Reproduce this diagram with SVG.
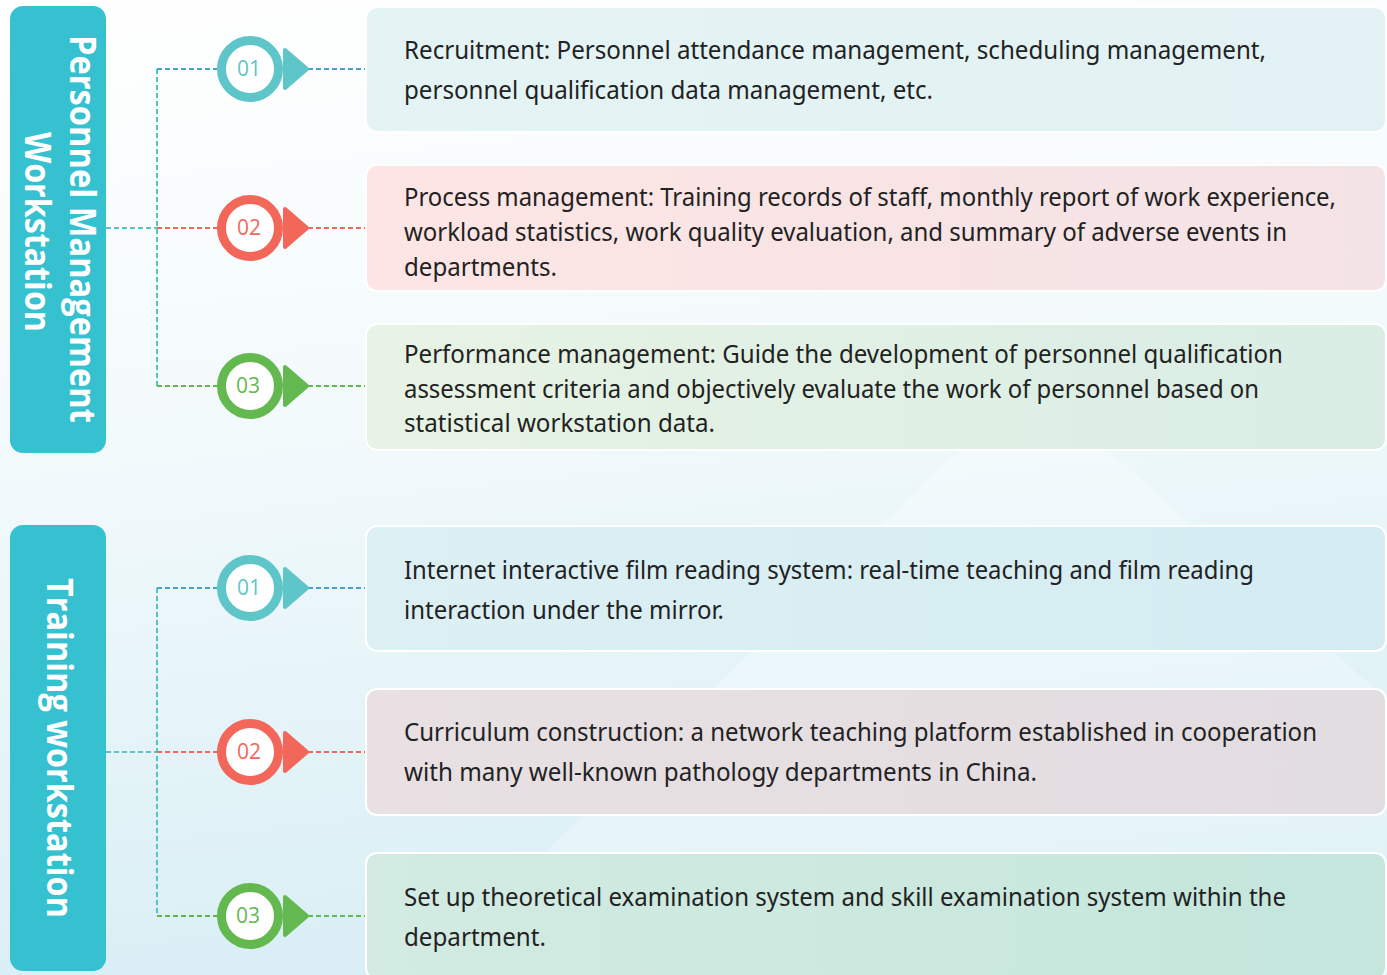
<svg xmlns="http://www.w3.org/2000/svg" width="1387" height="975" viewBox="0 0 1387 975">
<defs>
<linearGradient id="bg" x1="0" y1="0" x2="0.15" y2="1">
<stop offset="0" stop-color="#ffffff"/>
<stop offset="0.45" stop-color="#f3fafc"/>
<stop offset="1" stop-color="#d9eff5"/>
</linearGradient>
<linearGradient id="g1" x1="0" y1="0" x2="1" y2="0"><stop offset="0" stop-color="#e4f4f4"/><stop offset="1" stop-color="#e2f2f4"/></linearGradient>
<linearGradient id="g2" x1="0" y1="0" x2="1" y2="0"><stop offset="0" stop-color="#fde5e4"/><stop offset="1" stop-color="#f4e3e6"/></linearGradient>
<linearGradient id="g3" x1="0" y1="0" x2="1" y2="0"><stop offset="0" stop-color="#e7f3e4"/><stop offset="1" stop-color="#d9ede5"/></linearGradient>
<linearGradient id="g4" x1="0" y1="0" x2="1" y2="0"><stop offset="0" stop-color="#dcf0f4"/><stop offset="1" stop-color="#d4ecf2"/></linearGradient>
<linearGradient id="g5" x1="0" y1="0" x2="1" y2="0"><stop offset="0" stop-color="#e8e0e3"/><stop offset="1" stop-color="#e2dde1"/></linearGradient>
<linearGradient id="g6" x1="0" y1="0" x2="1" y2="0"><stop offset="0" stop-color="#d3ebe2"/><stop offset="1" stop-color="#c4e6dc"/></linearGradient>
</defs>
<style>
.title{font-family:"Open Sans","Noto Sans",sans-serif;font-weight:700;font-size:36px;fill:#ffffff}
.side{fill:#36c1d1}
.card{stroke:#ffffff;stroke-width:2}
.txt{font-family:"Noto Sans","Open Sans",sans-serif;font-size:25px;fill:#222222}
.num{font-family:"Open Sans","Noto Sans",sans-serif;font-size:21px;text-anchor:middle}
.dash{fill:none;stroke-width:2;stroke-dasharray:5 3}
.ring{fill:#ffffff;stroke-width:9}
.arr{stroke-width:4;stroke-linejoin:round}
</style>
<rect x="0" y="0" width="1387" height="975" fill="url(#bg)"/>
<polygon points="1030,380 1387,700 1387,975 420,975" fill="#ffffff" opacity="0.25"/>

<g id="connectors">
<path class="dash" stroke="#58c3c8" d="M106,228 H157"/>
<path class="dash" stroke="#4fc4c9" d="M157,69 V386"/>
<path class="dash" stroke="#46a3c9" d="M157,69 H218 M308,69 H365"/>
<path class="dash" stroke="#f0675a" d="M157,228 H218 M308,228 H365"/>
<path class="dash" stroke="#62b84e" d="M157,386 H218 M308,386 H365"/>
<path class="dash" stroke="#58c3c8" d="M106,752 H157"/>
<path class="dash" stroke="#4fc4c9" d="M157,588 V916"/>
<path class="dash" stroke="#46a3c9" d="M157,588 H218 M308,588 H365"/>
<path class="dash" stroke="#f0675a" d="M157,752 H218 M308,752 H365"/>
<path class="dash" stroke="#62b84e" d="M157,916 H218 M308,916 H365"/>
</g>

<g id="title-personnel">
<rect class="side" x="10" y="6" width="96" height="447" rx="13"/>
<text class="title" transform="translate(70,229) rotate(90)" text-anchor="middle" textLength="388" lengthAdjust="spacingAndGlyphs">Personnel Management</text>
<text class="title" transform="translate(25,232) rotate(90)" text-anchor="middle" textLength="200" lengthAdjust="spacingAndGlyphs">Workstation</text>
</g>
<g id="title-training">
<rect class="side" x="10" y="525" width="96" height="446" rx="13"/>
<text class="title" transform="translate(47,748) rotate(90)" text-anchor="middle" textLength="340" lengthAdjust="spacingAndGlyphs">Training workstation</text>
</g>

<g id="badge-p1">
<path class="arr" fill="#5ec6c8" stroke="#5ec6c8" d="M285,50 L307,69 L285,88 Z"/>
<circle class="ring" stroke="#5ec6c8" cx="250" cy="69" r="28.5"/>
<text class="num" fill="#5ec6c8" x="249" y="76">01</text>
</g>
<g id="badge-p2">
<path class="arr" fill="#f2675a" stroke="#f2675a" d="M285,209 L307,228 L285,247 Z"/>
<circle class="ring" stroke="#f2675a" cx="250" cy="228" r="28.5"/>
<text class="num" fill="#f2675a" x="249" y="235">02</text>
</g>
<g id="badge-p3">
<path class="arr" fill="#63b94f" stroke="#63b94f" d="M285,367 L307,386 L285,405 Z"/>
<circle class="ring" stroke="#63b94f" cx="250" cy="386" r="28.5"/>
<text class="num" fill="#63b94f" x="248" y="393">03</text>
</g>
<g id="badge-t1">
<path class="arr" fill="#5ec6c8" stroke="#5ec6c8" d="M285,569 L307,588 L285,607 Z"/>
<circle class="ring" stroke="#5ec6c8" cx="250" cy="588" r="28.5"/>
<text class="num" fill="#5ec6c8" x="249" y="595">01</text>
</g>
<g id="badge-t2">
<path class="arr" fill="#f2675a" stroke="#f2675a" d="M285,733 L307,752 L285,771 Z"/>
<circle class="ring" stroke="#f2675a" cx="250" cy="752" r="28.5"/>
<text class="num" fill="#f2675a" x="249" y="759">02</text>
</g>
<g id="badge-t3">
<path class="arr" fill="#63b94f" stroke="#63b94f" d="M285,897 L307,916 L285,935 Z"/>
<circle class="ring" stroke="#63b94f" cx="250" cy="916" r="28.5"/>
<text class="num" fill="#63b94f" x="248" y="923">03</text>
</g>

<g id="card-p1">
<rect class="card" x="366" y="7" width="1020" height="125" rx="11" fill="url(#g1)"/>
<text class="txt" x="404" y="59" textLength="862" lengthAdjust="spacingAndGlyphs">Recruitment: Personnel attendance management, scheduling management,</text>
<text class="txt" x="404" y="99" textLength="529" lengthAdjust="spacingAndGlyphs">personnel qualification data management, etc.</text>
</g>
<g id="card-p2">
<rect class="card" x="366" y="165" width="1020" height="126" rx="11" fill="url(#g2)"/>
<text class="txt" x="404" y="206" textLength="932" lengthAdjust="spacingAndGlyphs">Process management: Training records of staff, monthly report of work experience,</text>
<text class="txt" x="404" y="241" textLength="883" lengthAdjust="spacingAndGlyphs">workload statistics, work quality evaluation, and summary of adverse events in</text>
<text class="txt" x="404" y="276" textLength="153" lengthAdjust="spacingAndGlyphs">departments.</text>
</g>
<g id="card-p3">
<rect class="card" x="366" y="324" width="1020" height="126" rx="11" fill="url(#g3)"/>
<text class="txt" x="404" y="363" textLength="879" lengthAdjust="spacingAndGlyphs">Performance management: Guide the development of personnel qualification</text>
<text class="txt" x="404" y="398" textLength="855" lengthAdjust="spacingAndGlyphs">assessment criteria and objectively evaluate the work of personnel based on</text>
<text class="txt" x="404" y="432" textLength="311" lengthAdjust="spacingAndGlyphs">statistical workstation data.</text>
</g>
<g id="card-t1">
<rect class="card" x="366" y="526" width="1020" height="125" rx="11" fill="url(#g4)"/>
<text class="txt" x="404" y="579" textLength="850" lengthAdjust="spacingAndGlyphs">Internet interactive film reading system: real-time teaching and film reading</text>
<text class="txt" x="404" y="619" textLength="320" lengthAdjust="spacingAndGlyphs">interaction under the mirror.</text>
</g>
<g id="card-t2">
<rect class="card" x="366" y="689" width="1020" height="126" rx="11" fill="url(#g5)"/>
<text class="txt" x="404" y="741" textLength="913" lengthAdjust="spacingAndGlyphs">Curriculum construction: a network teaching platform established in cooperation</text>
<text class="txt" x="404" y="781" textLength="633" lengthAdjust="spacingAndGlyphs">with many well-known pathology departments in China.</text>
</g>
<g id="card-t3">
<rect class="card" x="366" y="853" width="1020" height="126" rx="11" fill="url(#g6)"/>
<text class="txt" x="404" y="906" textLength="882" lengthAdjust="spacingAndGlyphs">Set up theoretical examination system and skill examination system within the</text>
<text class="txt" x="404" y="946" textLength="142" lengthAdjust="spacingAndGlyphs">department.</text>
</g>
</svg>
